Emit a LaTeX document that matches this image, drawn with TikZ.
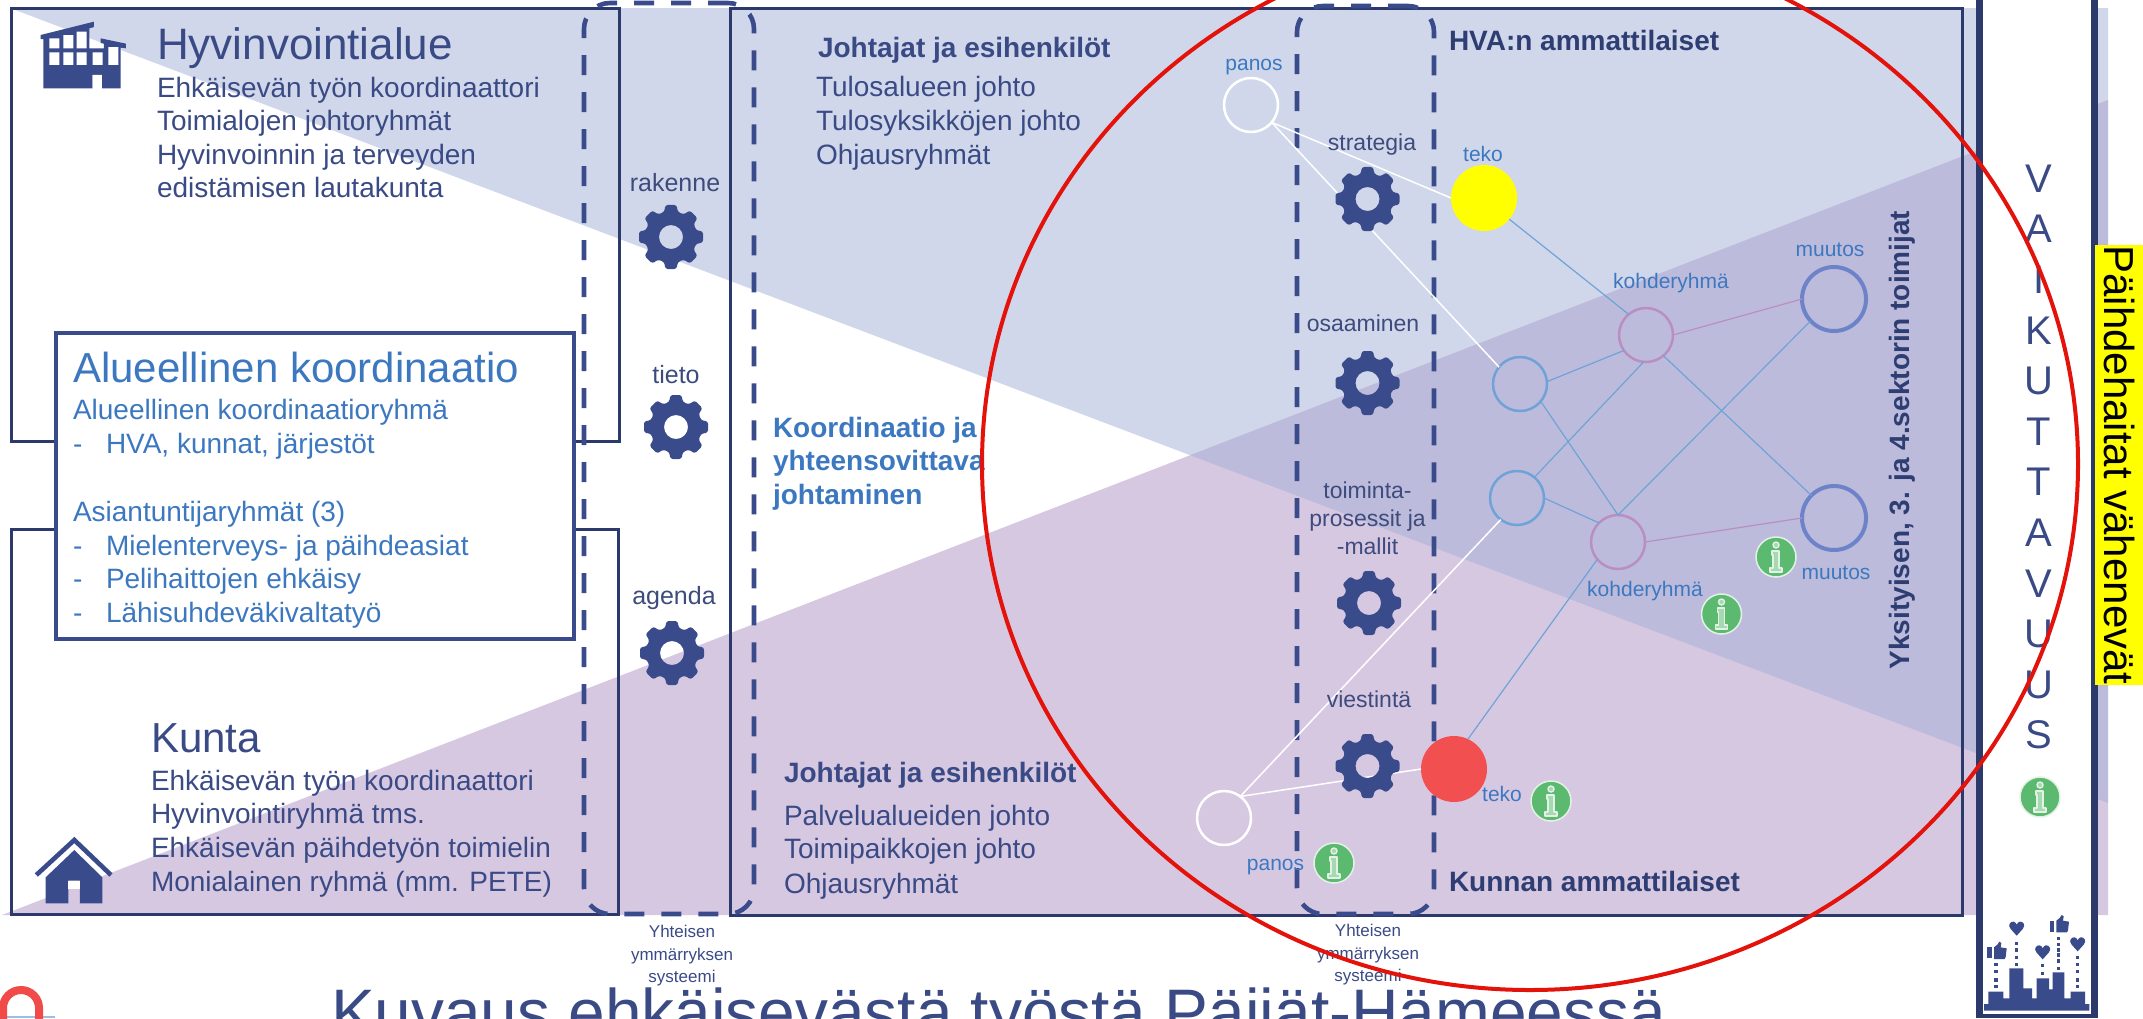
\documentclass[tikz,border=0pt]{standalone}
\usepackage{fontspec}
\usetikzlibrary{shapes.geometric}
\setmainfont{Liberation Sans}
\definecolor{frameC}{HTML}{2B3A6B}
\definecolor{iconC}{HTML}{3A4B8C}
\definecolor{txtC}{HTML}{3A4A85}
\definecolor{labC}{HTML}{3D4B7D}
\definecolor{bluT}{HTML}{3C78C0}
\definecolor{bgB}{HTML}{D0D7EA}
\definecolor{bgP}{HTML}{D7C8E2}
\definecolor{bgO}{HTML}{BDBBDB}
\definecolor{redC}{HTML}{E3120B}
\definecolor{redF}{HTML}{F25050}
\definecolor{linB}{HTML}{6FA3D8}
\definecolor{linP}{HTML}{B98FC2}
\definecolor{ringB}{HTML}{6D83C9}
\definecolor{greenI}{HTML}{5CB970}
\definecolor{greenL}{HTML}{E4F1E6}
\definecolor{yelC}{RGB}{255,255,0}
\tikzset{
  fsize/.style={font=\fontsize{#1}{#1}\selectfont},
  tbase/.style={inner sep=0pt,outer sep=0pt,text=txtC,anchor=base west},
  tmid/.style={inner sep=0pt,outer sep=0pt,anchor=base},
  lab/.style={tmid,text=labC,fsize=23},
  blu/.style={tmid,text=bluT,fsize=21},
  body/.style={tbase,fsize=28},
  bodyB/.style={tbase,font=\fontsize{28}{28}\selectfont\bfseries},
  head/.style={tbase,fsize=42},
  blub/.style={tbase,text=bluT,fsize=28},
  note/.style={inner sep=0pt,outer sep=0pt,align=center,text=txtC,font=\fontsize{17}{22.5}\selectfont},
  ringW/.style={circle,draw=white,line width=2.5pt,minimum size=54pt,inner sep=0pt,outer sep=0pt},
  ringBl/.style={circle,draw=linB,line width=2.5pt,minimum size=54pt,inner sep=0pt,outer sep=0pt},
  ringPu/.style={circle,draw=linP,line width=2.5pt,minimum size=54pt,inner sep=0pt,outer sep=0pt},
  ringBig/.style={circle,draw=ringB,line width=4pt,minimum size=64pt,inner sep=0pt,outer sep=0pt},
  connW/.style={draw=white,line width=1.5pt},
  connB/.style={draw=linB,line width=1.2pt},
  connP/.style={draw=linP,line width=1.2pt},
  framebox/.style={draw=frameC,line width=3pt,inner sep=0pt,outer sep=0pt,anchor=north west},
  barbox/.style={fill=frameC,inner sep=0pt,outer sep=0pt,anchor=north west},
  dashbox/.style={draw=iconC,line width=4.6pt,dash pattern=on 20pt off 17pt,rounded corners=26pt,inner sep=0pt,outer sep=0pt,anchor=north west},
  gearicon/.pic={
    \fill[iconC,even odd rule,rounded corners=2.5pt] (-22.5:26)
      \foreach \a in {0,45,...,315}{ -- ({\a-15}:26) -- ({\a-10}:32.5) -- ({\a+10}:32.5) -- ({\a+15}:26) } -- cycle
      (0,0) circle [radius=12];
  },
  infoicon/.pic={
    \fill[greenI,draw=greenL,line width=1.5pt] (0,0) circle [radius=20];
    \draw[greenL,line width=1.4pt,fill=greenI!55!white] (0,-12) circle [radius=3];
    \draw[greenL,line width=1.4pt,fill=greenI!55!white,line join=round]
      (-4,-6) -- (3,-6) -- (3,11) -- (6,11) -- (6,15) -- (-6,15) -- (-6,11) -- (-3,11) -- (-3,-2) -- (-4,-2) -- cycle;
  },
  heartico/.pic={
    \fill[iconC] (0,22) -- (-18,2) .. controls (-29,-10) and (-18,-22) .. (-9,-20)
      .. controls (-5,-19) and (-2,-16) .. (0,-11) .. controls (2,-16) and (5,-19) .. (9,-20)
      .. controls (18,-22) and (29,-10) .. (18,2) -- cycle;
  },
  thumbico/.pic={
    \fill[iconC] (-26,-14) rectangle (-12,19);
    \fill[iconC] (-6,-14) -- (4,-22) -- (10,-31) -- (16,-27) -- (14,-14) -- (32,-11) -- (29,15) -- (26,21) -- (-6,21) -- cycle;
  }
}
\begin{document}
\begin{tikzpicture}[x=1pt,y=-1pt,line join=miter]
\useasboundingbox (0,0) rectangle (2143,1018);
\clip (0,0) rectangle (2143,1018);
% ---------- coloured background wedges
\fill[bgB] (10,8) -- (2108,8) -- (2108,803) -- cycle;
\fill[bgP] (2,915) -- (2108,100) -- (2108,915) -- cycle;
\begin{scope}
  \clip (10,8) -- (2108,8) -- (2108,803) -- cycle;
  \fill[bgO] (2,915) -- (2108,100) -- (2108,915) -- cycle;
\end{scope}
% ---------- white impact column
\fill[white] (1976,0) rectangle (2098,1018);
% ---------- frames
\node[framebox,minimum width=608pt,minimum height=433pt] (hvaBox) at (11,8) {};
\node[framebox,minimum width=607pt,minimum height=385pt] (kuntaBox) at (11,529) {};
\node[framebox,minimum width=1232pt,minimum height=907pt] (mainBox) at (730,8) {};
\node[barbox,minimum width=7pt,minimum height=1018pt] (barL) at (1976,0) {};
\node[barbox,minimum width=7pt,minimum height=1018pt] (barR) at (2091,0) {};
\node[barbox,minimum width=122pt,minimum height=4pt] (barB) at (1976,1014) {};
% ---------- regional box
\node[framebox,draw=iconC,fill=white,line width=4.5pt,minimum width=518pt,minimum height=306pt] (alueBox) at (56,333) {};
% ---------- dashed frames
\node[dashbox,minimum width=170pt,minimum height=911pt] (dashA) at (584,3) {};
\node[dashbox,minimum width=137pt,minimum height=908pt] (dashB) at (1297,6) {};
% ---------- network nodes
\node[ringW] (panosT) at (1251,105) {};
\node[ringW] (panosB) at (1224,818) {};
\node[circle,fill=yelC,minimum size=66pt,inner sep=0pt,outer sep=0pt] (tekoT) at (1484,198) {};
\node[circle,fill=redF,minimum size=66pt,inner sep=0pt,outer sep=0pt] (tekoB) at (1454,769) {};
\node[ringBl] (midT) at (1520,384) {};
\node[ringBl] (midB) at (1517,498) {};
\node[ringPu] (kohT) at (1646,335) {};
\node[ringPu] (kohB) at (1618,542) {};
\node[ringBig] (muuT) at (1834,299) {};
\node[ringBig] (muuB) at (1834,518) {};
% ---------- connectors
\draw[connW] (panosT.-40) -- (tekoT.180);
\draw[connW] (panosT.-40) -- (midT.141);
\draw[connW] (panosB.53) -- (midB.233);
\draw[connW] (panosB.53) -- (tekoB.180);
\draw[connB] (tekoT.-40) -- (kohT.130);
\draw[connB] (midT.5) -- (kohT.215);
\draw[connB] (midT.-40) -- (kohB.90);
\draw[connB] (midB.50) -- (kohT.265);
\draw[connB] (midB.0) -- (kohB.135);
\draw[connB] (kohT.-50) -- (muuB.135);
\draw[connB] (kohB.90) -- (muuT.223);
\draw[connB] (kohB.220) -- (tekoB.65);
\draw[connP] (kohT.0) -- (muuT.180);
\draw[connP] (kohB.0) -- (muuB.180);
% ---------- gears
\pic (gearA) at (671,237) {gearicon};
\pic (gearB) at (676,427) {gearicon};
\pic (gearC) at (672,653) {gearicon};
\pic (gearD) at (1367.5,199) {gearicon};
\pic (gearE) at (1367.5,383) {gearicon};
\pic (gearF) at (1369,603) {gearicon};
\pic (gearG) at (1367.5,766) {gearicon};
% ---------- info icons
\pic (infoA) at (1776,557) {infoicon};
\pic (infoB) at (1721.5,614) {infoicon};
\pic (infoC) at (1551,801) {infoicon};
\pic (infoD) at (1334,863) {infoicon};
\pic (infoE) at (2040,797) {infoicon};
% ---------- left column text
\node[tbase,fsize=44] (tHva) at (157,59) {Hyvinvointialue};
\node[body] (tH1) at (157,97) {Ehkäisevän työn koordinaattori};
\node[body] (tH2) at (157,130.5) {Toimialojen johtoryhmät};
\node[body] (tH3) at (157,164) {Hyvinvoinnin ja terveyden};
\node[body] (tH4) at (157,197.5) {edistämisen lautakunta};
\node[head,text=bluT] (tAlue) at (73,382) {Alueellinen koordinaatio};
\node[blub] (tA1) at (73,419) {Alueellinen koordinaatioryhmä};
\node[blub] (tA2d) at (73,453) {-};
\node[blub] (tA2) at (106,453) {HVA, kunnat, järjestöt};
\node[blub] (tA3) at (73,521) {Asiantuntijaryhmät (3)};
\node[blub] (tA4d) at (73,555) {-};
\node[blub] (tA4) at (106,555) {Mielenterveys- ja päihdeasiat};
\node[blub] (tA5d) at (73,588) {-};
\node[blub] (tA5) at (106,588) {Pelihaittojen ehkäisy};
\node[blub] (tA6d) at (73,622) {-};
\node[blub] (tA6) at (106,622) {Lähisuhdeväkivaltatyö};
\node[head] (tKun) at (151,752) {Kunta};
\node[body] (tK1) at (151,790) {Ehkäisevän työn koordinaattori};
\node[body] (tK2) at (151,823) {Hyvinvointiryhmä tms.};
\node[body] (tK3) at (151,857) {Ehkäisevän päihdetyön toimielin};
\node[body] (tK4) at (151,891) {Monialainen ryhmä (mm. PETE)};
% ---------- column labels
\node[lab,fsize=25] (lRak) at (675,191) {rakenne};
\node[lab,fsize=25] (lTie) at (676,383) {tieto};
\node[lab,fsize=25] (lAge) at (674,604) {agenda};
\node[note] (nYa) at (682,956) {Yhteisen\\ymmärryksen\\systeemi};
\node[note] (nYb) at (1368,955) {Yhteisen\\ymmärryksen\\systeemi};
% ---------- middle text
\node[bodyB] (tJ) at (818,57) {Johtajat ja esihenkilöt};
\node[body] (tJ1) at (816,96) {Tulosalueen johto};
\node[body] (tJ2) at (816,130) {Tulosyksikköjen johto};
\node[body] (tJ3) at (816,164) {Ohjausryhmät};
\node[bodyB,text=bluT] (tKo1) at (773,437) {Koordinaatio ja};
\node[bodyB,text=bluT] (tKo2) at (773,470) {yhteensovittava};
\node[bodyB,text=bluT] (tKo3) at (773,504) {johtaminen};
\node[bodyB] (tL) at (784,782) {Johtajat ja esihenkilöt};
\node[body] (tL1) at (784,825) {Palvelualueiden johto};
\node[body] (tL2) at (784,858) {Toimipaikkojen johto};
\node[body] (tL3) at (784,893) {Ohjausryhmät};
% ---------- network labels
\node[blu] (pT) at (1254,70) {panos};
\node[blu] (pB) at (1275.5,870) {panos};
\node[blu] (tT) at (1483,161) {teko};
\node[blu] (tB) at (1502,801) {teko};
\node[blu] (kT) at (1671,288) {kohderyhmä};
\node[blu] (kB) at (1645,596) {kohderyhmä};
\node[blu] (mT) at (1830,256) {muutos};
\node[blu] (mB) at (1836,579) {muutos};
\node[lab] (lStr) at (1372,150) {strategia};
\node[lab] (lOsa) at (1363,331) {osaaminen};
\node[lab] (lTo1) at (1367.5,498) {toiminta-};
\node[lab] (lTo2) at (1367.5,526) {prosessit ja};
\node[lab] (lTo3) at (1367.5,554) {-mallit};
\node[lab] (lVie) at (1369,707) {viestintä};
\node[bodyB,text=frameC!80!iconC] (tHvaA) at (1449,50) {HVA:n ammattilaiset};
\node[bodyB,text=frameC!80!iconC] (tKunA) at (1449,891) {Kunnan ammattilaiset};
\node[tmid,rotate=90,text=frameC!80!iconC,font=\fontsize{28}{28}\selectfont\bfseries] (tYks) at (1909,440) {Yksityisen, 3. ja 4.sektorin toimijat};
% ---------- right column
\node[inner sep=0pt,align=center,text=txtC,font=\fontsize{40}{50.6}\selectfont] (tVai) at (2039,457) {V\\A\\I\\K\\U\\T\\T\\A\\V\\U\\U\\S};
\node[fill=yelC,text=black,rotate=-90,inner sep=0pt,minimum width=440pt,minimum height=48pt,font=\fontsize{42}{42}\selectfont] (tPai) at (2119,465) {Päihdehaitat vähenevät};
% ---------- skyline icon
\begin{scope}[shift={(1970,890)},x=0.3333pt,y=-0.3333pt]
  \fill[iconC] (42,362) -- (42,342) -- (55,342) -- (55,305) -- (100,305) -- (100,325) -- (118,325) -- (118,235) -- (160,235) -- (160,295) -- (186,295) -- (186,325) -- (200,325) -- (200,265) -- (237,265) -- (237,298) -- (248,298) -- (248,247) -- (283,247) -- (283,325) -- (302,325) -- (302,305) -- (345,305) -- (345,342) -- (358,342) -- (358,362) -- cycle;
  \foreach \py in {155,175,197,218} \fill[iconC] (135,\py) rectangle (145,{\py+10});
  \foreach \py in {218,240,265,285} \fill[iconC] (73,\py) rectangle (83,{\py+10});
  \foreach \py in {222,245} \fill[iconC] (213,\py) rectangle (223,{\py+10});
  \foreach \py in {140,158,175,190,208,230} \fill[iconC] (260,\py) rectangle (270,{\py+10});
  \foreach \py in {198,218,240,265,285} \fill[iconC] (318,\py) rectangle (328,{\py+10});
  \pic (hrtA) at (140,115) {heartico};
  \pic (hrtB) at (218,186) {heartico};
  \pic (hrtC) at (323,162) {heartico};
  \pic (thbA) at (78,186) {thumbico};
  \pic (thbB) at (265,106) {thumbico};
\end{scope}
% ---------- factory icon
\begin{scope}[shift={(30,15)},x=0.3333pt,y=-0.3333pt]
  \fill[iconC] (40,220) -- (40,72) -- (32,72) -- (32,60) -- (192,20) -- (192,36) -- (178,40) -- (178,100) -- (222,100) -- (222,86) -- (212,84) -- (212,70) -- (288,86) -- (288,100) -- (272,98) -- (272,220) -- (216,220) -- (216,180) -- (188,180) -- (188,220) -- cycle;
  \fill[white] (58,70) rectangle (88,100) (100,60) rectangle (130,100) (140,50) rectangle (170,100)
    (58,112) rectangle (88,150) (100,112) rectangle (130,150) (140,112) rectangle (170,150) (188,112) rectangle (218,150) (235,96) rectangle (265,150) (188,180) rectangle (216,220);
\end{scope}
% ---------- house icon
\begin{scope}[shift={(25,830)},x=0.3333pt,y=-0.3333pt]
  \draw[iconC,line width=4.6pt] (34,135) -- (148,30) -- (258,135);
  \fill[iconC,even odd rule] (62,220) -- (62,142) -- (148,60) -- (232,142) -- (232,220) -- (165,220) -- (165,152) -- (130,152) -- (130,220) -- cycle;
  \fill[white] (130,152) rectangle (165,178);
\end{scope}
% ---------- bottom title and fragment
\node[tbase,fsize=65.8] (tTitle) at (331,1035) {Kuvaus ehkäisevästä työstä Päijät-Hämeessä};
\draw[color=linB!70!white,line width=1.5pt] (5,1017) -- (55,1017);
\draw[redF!90!redC,line width=8pt] (3,1022) -- (3,1008) arc (180:360:18) -- (39,1022);
% ---------- red ellipse
\node[draw=redC,line width=4pt,ellipse,inner sep=0pt,minimum width=1096pt,minimum height=1052pt] (redRing) at (1530,464) {};
\end{tikzpicture}
\end{document}
